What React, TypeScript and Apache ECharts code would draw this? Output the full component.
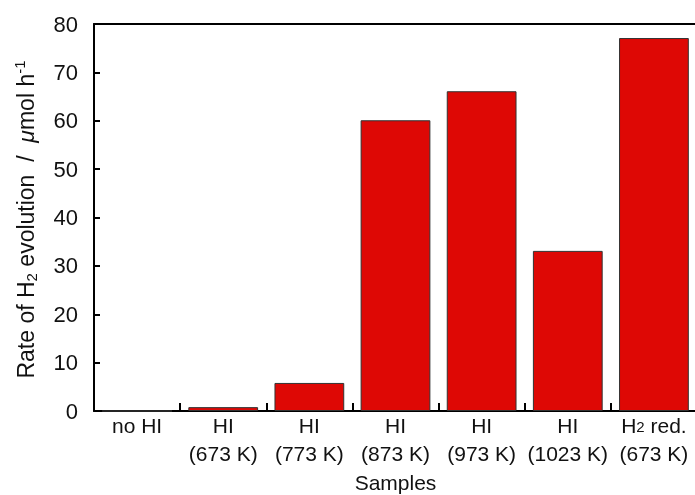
import React, { useEffect, useRef } from "react";
import * as echarts from "echarts";

const categories = ["no HI", "HI\n(673 K)", "HI\n(773 K)", "HI\n(873 K)", "HI\n(973 K)", "HI\n(1023 K)", "H2 red.\n(673 K)"];
const rates = [0, 0.8, 5.8, 60.1, 66.1, 33.1, 77.1];
const yTicks = { min: 0, max: 80, interval: 10 };

const FONT = "Liberation Sans, Arial, sans-serif";

export default function App() {
  const ref = useRef<HTMLDivElement>(null);
  useEffect(() => {
    if (!ref.current) return;
    const chart = echarts.init(ref.current, undefined, { renderer: "svg" });
    chart.setOption({
      animation: false,
      textStyle: { fontFamily: FONT },
      grid: { left: 94, right: -2, top: 24, bottom: 84, outerBoundsMode: "none", containLabel: false },
      xAxis: [
        {
          type: "category",
          data: categories,
          boundaryGap: true,
          name: "Samples",
          nameLocation: "middle",
          nameGap: 58,
          nameTextStyle: { fontSize: 21, color: "#111", fontFamily: FONT },
          axisLine: { lineStyle: { color: "#000", width: 2 } },
          axisTick: { show: true, inside: true, length: 8, alignWithLabel: false, lineStyle: { color: "#000", width: 2 } },
          axisLabel: {
            margin: 0,
            fontSize: 21,
            color: "#111",
            fontFamily: FONT,
            lineHeight: 28,
            interval: 0,
            formatter: (v: string) => v.replace("H2 red.", "{a|H}{s|2}{a| red.}"),
            rich: {
              a: { fontSize: 21, fontFamily: FONT, color: "#111", lineHeight: 28 },
              s: { fontSize: 15, fontFamily: FONT, color: "#111", lineHeight: 15, verticalAlign: "bottom", padding: [0, 0, 5, 0] },
            },
          },
        },
        {
          type: "category",
          data: categories,
          position: "top",
          axisLine: { show: true, lineStyle: { color: "#000", width: 2 } },
          axisTick: { show: false },
          axisLabel: { show: false },
        },
      ],
      yAxis: {
        type: "value",
        min: yTicks.min,
        max: yTicks.max,
        interval: yTicks.interval,
        name: "{n|Rate of H}{sub|2}{n| evolution  /  }{i|μ}{n|mol h}{sup|-1}{e|}",
        nameLocation: "middle",
        nameGap: 55,
        nameTextStyle: {
          fontSize: 23,
          color: "#111",
          rich: {
            n: { fontSize: 23, fontFamily: FONT, color: "#111", lineHeight: 27 },
            i: { fontSize: 23, fontFamily: FONT, fontStyle: "italic", color: "#111", lineHeight: 27 },
            sub: { fontSize: 15, fontFamily: FONT, color: "#111", verticalAlign: "bottom", lineHeight: 15 },
            sup: { fontSize: 15, fontFamily: FONT, color: "#111", verticalAlign: "top", lineHeight: 15 },
            e: { width: 4, lineHeight: 27 },
          },
        },
        splitLine: { show: false },
        axisLine: { show: true, lineStyle: { color: "#000", width: 2 } },
        axisTick: { show: true, inside: true, length: 6, lineStyle: { color: "#000", width: 2 } },
        axisLabel: { fontSize: 22, color: "#111", fontFamily: FONT, margin: 16 },
      },
      series: [
        {
          type: "bar",
          data: rates,
          barWidth: "81%",
          itemStyle: { color: "#de0805", borderColor: "#333", borderWidth: 1 },
        },
      ],
    });
    return () => chart.dispose();
  }, []);
  return <div ref={ref} style={{ position: "fixed", left: 0, top: 0, width: 695, height: 495 }} />;
}
